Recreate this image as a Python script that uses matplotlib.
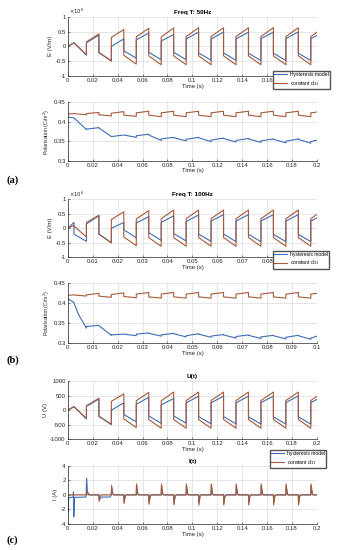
import matplotlib
matplotlib.use("Agg")
import matplotlib.pyplot as plt
from matplotlib.ticker import FuncFormatter

# segment boundaries (s): first rise, then switching instants of the square drive
switch_50 = [0, 0.005, 0.015, 0.025, 0.035, 0.045, 0.055, 0.065, 0.075, 0.085, 0.095,
             0.105, 0.115, 0.125, 0.135, 0.145, 0.155, 0.165, 0.175, 0.185, 0.195, 0.2]
switch_100 = [0, 0.0025, 0.0075, 0.0125, 0.0175, 0.0225, 0.0275, 0.0325, 0.0375, 0.0425, 0.0475,
              0.0525, 0.0575, 0.0625, 0.0675, 0.0725, 0.0775, 0.0825, 0.0875, 0.0925, 0.0975, 0.1]

# E field, 50 Hz (x1e6 V/m): value at start / end of each segment
e50_hyst_start = [0, 0.12, 0.12, -0.22, 0.0, -0.15, 0.22, -0.20, 0.18, -0.20, 0.25,
                  -0.22, 0.25, -0.22, 0.25, -0.23, 0.26, -0.23, 0.26, -0.23, 0.26]
e50_hyst_end = [0.12, -0.30, 0.38, -0.48, 0.25, -0.40, 0.45, -0.45, 0.40, -0.45, 0.48,
                -0.47, 0.48, -0.47, 0.48, -0.48, 0.48, -0.48, 0.49, -0.48, 0.37]
e50_const_start = [0, 0.12, 0.15, -0.20, 0.30, -0.30, 0.32, -0.32, 0.32, -0.32, 0.33,
                   -0.32, 0.33, -0.32, 0.33, -0.32, 0.33, -0.32, 0.33, -0.32, 0.33]
e50_const_end = [0.12, -0.28, 0.42, -0.50, 0.57, -0.60, 0.61, -0.62, 0.62, -0.62, 0.63,
                 -0.62, 0.63, -0.62, 0.63, -0.62, 0.63, -0.62, 0.63, -0.62, 0.48]

# polarisation, 50 Hz (C/m^2)
p50_hyst_start = [0.412, 0.410, 0.381, 0.384, 0.362, 0.366, 0.364, 0.366, 0.356, 0.359, 0.355,
                  0.359, 0.353, 0.357, 0.352, 0.356, 0.351, 0.355, 0.350, 0.355, 0.349]
p50_hyst_end = [0.410, 0.380, 0.385, 0.362, 0.366, 0.360, 0.368, 0.352, 0.360, 0.351, 0.360,
                0.349, 0.358, 0.348, 0.357, 0.347, 0.356, 0.346, 0.356, 0.345, 0.353]
p50_const_start = [0.420, 0.421, 0.421, 0.418, 0.422, 0.417, 0.423, 0.417, 0.423, 0.417, 0.423,
                   0.417, 0.423, 0.417, 0.423, 0.417, 0.423, 0.417, 0.423, 0.417, 0.423]
p50_const_end = [0.421, 0.418, 0.424, 0.415, 0.426, 0.414, 0.427, 0.413, 0.427, 0.413, 0.427,
                 0.413, 0.427, 0.413, 0.427, 0.413, 0.427, 0.413, 0.427, 0.413, 0.425]

# E field, 100 Hz (x1e6 V/m)
e100_hyst_start = [0, -0.20, 0.15, -0.20, 0.00, -0.05, 0.18, -0.15, 0.20, -0.18, 0.23,
                   -0.20, 0.25, -0.20, 0.25, -0.21, 0.25, -0.21, 0.25, -0.21, 0.25]
e100_hyst_end = [0.20, -0.45, 0.43, -0.50, 0.20, -0.33, 0.40, -0.42, 0.43, -0.44, 0.46,
                 -0.45, 0.47, -0.46, 0.47, -0.46, 0.47, -0.46, 0.47, -0.46, 0.36]
e100_const_start = [0, 0.08, 0.20, -0.20, 0.30, -0.30, 0.32, -0.32, 0.33, -0.32, 0.33,
                    -0.32, 0.33, -0.32, 0.33, -0.32, 0.33, -0.32, 0.33, -0.32, 0.33]
e100_const_end = [0.10, -0.30, 0.45, -0.50, 0.57, -0.60, 0.61, -0.62, 0.63, -0.62, 0.63,
                  -0.62, 0.63, -0.62, 0.63, -0.62, 0.63, -0.62, 0.63, -0.62, 0.48]

# polarisation, 100 Hz (hysteresis curve has one extra knot in its first drop)
p100_hyst_bounds = [0, 0.0025, 0.0045] + switch_100[2:]
p100_hyst_start = [0.412, 0.400, 0.370, 0.342, 0.344, 0.321, 0.323, 0.323, 0.325, 0.321, 0.324,
                   0.319, 0.323, 0.318, 0.321, 0.317, 0.320, 0.316, 0.319, 0.315, 0.319, 0.313]
p100_hyst_end = [0.402, 0.370, 0.338, 0.345, 0.320, 0.323, 0.319, 0.326, 0.318, 0.325, 0.316,
                 0.324, 0.315, 0.322, 0.313, 0.321, 0.312, 0.320, 0.311, 0.320, 0.310, 0.318]
p100_const_start = [0.420, 0.421, 0.421, 0.418, 0.422, 0.417, 0.423, 0.416, 0.423, 0.416, 0.423,
                    0.416, 0.423, 0.416, 0.423, 0.416, 0.423, 0.416, 0.423, 0.416, 0.423]
p100_const_end = [0.421, 0.418, 0.425, 0.415, 0.426, 0.414, 0.427, 0.413, 0.427, 0.413, 0.427,
                  0.413, 0.427, 0.413, 0.427, 0.413, 0.427, 0.413, 0.427, 0.413, 0.425]

# voltage (V)
u_hyst_start = [0, 120, 130, -220, 0, -150, 200, -200, 180, -200, 250,
                -220, 250, -220, 250, -230, 260, -230, 260, -230, 260]
u_hyst_end = [120, -300, 380, -480, 250, -400, 440, -450, 400, -450, 480,
              -470, 480, -470, 480, -480, 480, -480, 490, -480, 370]
u_const_start = [0, 120, 150, -200, 300, -300, 320, -320, 320, -320, 330,
                 -320, 330, -320, 330, -320, 330, -320, 330, -320, 330]
u_const_end = [120, -280, 410, -500, 560, -600, 610, -620, 620, -620, 620,
               -620, 620, -620, 620, -620, 620, -620, 620, -620, 480]

# current (A): spikes at the switching instants
i_spike_times = [0.015, 0.025, 0.035, 0.045, 0.055, 0.065, 0.075, 0.085, 0.095, 0.105,
                 0.115, 0.125, 0.135, 0.145, 0.155, 0.165, 0.175, 0.185, 0.195]
i_const_amp = [0.6, -0.9, 1.3, -1.2, 1.5, -1.3, 1.5, -1.4, 1.5, -1.4,
               1.5, -1.4, 1.5, -1.4, 1.5, -1.4, 1.5, -1.4, 1.5]
i_hyst_amp = [0.0, 0.0, 1.0, -1.0, 1.2, -1.1, 1.2, -1.1, 1.2, -1.1,
              1.2, -1.1, 1.2, -1.1, 1.2, -1.1, 1.2, -1.1, 1.2]
i_hyst_start_t = [0, 0.0003, 0.0008, 0.0044, 0.0046, 0.0049, 0.0055, 0.0147, 0.0152, 0.0158,
                  0.0175, 0.025, 0.0252, 0.027, 0.034, 0.035]
i_hyst_start_v = [0, -2.4, -0.4, -0.3, 0.4, -3.0, -0.35, -0.3, 2.3, 0.4,
                  0.0, 0.0, -0.7, -0.3, -0.3, 0.0]

BLUE = "#3f6db5"
BROWN = "#a65a3a"
AXC = "#262626"


def square_path(bounds, starts, ends):
    t, y = [], []
    for i in range(len(starts)):
        t += [bounds[i], bounds[i + 1]]
        y += [starts[i], ends[i]]
    return t, y


def spike_path(times, amps, t_end):
    t, y = [0.0], [0.0]
    for ts, a in zip(times, amps):
        if a == 0:
            continue
        t += [ts, ts + 0.0002, ts + 0.0012, ts + 0.002]
        y += [0, a, 0.1 * a, 0]
    t.append(t_end)
    y.append(0)
    return t, y


def style_axes(ax, xmax, xstep, yticks, ylabel, ylab_size=4.3):
    ax.set_xlim(0, xmax)
    ax.set_xticks([round(k * xstep, 4) for k in range(int(round(xmax / xstep)) + 1)])
    ax.set_ylim(yticks[0], yticks[-1])
    ax.set_yticks(yticks)
    ax.xaxis.set_major_formatter(FuncFormatter(lambda v, p: f"{v:g}"))
    ax.yaxis.set_major_formatter(FuncFormatter(lambda v, p: f"{v:g}"))
    ax.grid(True, color="#dcdcdc", linewidth=0.5)
    ax.set_axisbelow(True)
    for s in ("top", "right"):
        ax.spines[s].set_visible(False)
    for s in ("left", "bottom"):
        ax.spines[s].set_color(AXC)
        ax.spines[s].set_linewidth(0.5)
    ax.tick_params(direction="in", length=1.5, width=0.4, labelsize=4.3,
                   colors=AXC, pad=1.5)
    ax.set_xlabel("Time (s)", fontsize=4.3, labelpad=0.5, color=AXC)
    ax.set_ylabel(ylabel, fontsize=ylab_size, labelpad=1.5, color=AXC)


def add_legend(ax, fig, x, y, first):
    ax.legend([first, "constant d$_{31}$"], loc="lower left", bbox_to_anchor=(x, y),
              bbox_transform=fig.transFigure, fontsize=3.6, frameon=True, fancybox=False,
              edgecolor="#555555", framealpha=1, handlelength=2.6, borderpad=0.3,
              labelspacing=0.3, handletextpad=0.5, borderaxespad=0)


plt.rcParams["font.family"] = ["Liberation Sans", "DejaVu Sans"]
fig = plt.figure(figsize=(3.42, 5.5), dpi=100)
L, W = 0.198, 0.729

# (a) 50 Hz
ax = fig.add_axes([L, 0.8618, W, 0.1078])
t, y = square_path(switch_50, e50_hyst_start, e50_hyst_end)
ax.plot(t, y, color=BLUE, lw=0.8)
t, y = square_path(switch_50, e50_const_start, e50_const_end)
ax.plot(t, y, color=BROWN, lw=0.8)
style_axes(ax, 0.2, 0.02, [-1, -0.5, 0, 0.5, 1], "E (V/m)")
ax.text(0.005, 1.01, r"$\times10^{6}$", transform=ax.transAxes, fontsize=3.8, color=AXC, va="bottom")
ax.set_title("Freq T: 50Hz", fontsize=4.6, fontweight="bold", pad=2)
add_legend(ax, fig, 0.797, 0.838, "Hysteresis model")

ax = fig.add_axes([L, 0.7078, W, 0.1062])
t, y = square_path(switch_50, p50_hyst_start, p50_hyst_end)
ax.plot(t, y, color=BLUE, lw=0.8)
t, y = square_path(switch_50, p50_const_start, p50_const_end)
ax.plot(t, y, color=BROWN, lw=0.8)
style_axes(ax, 0.2, 0.02, [0.3, 0.35, 0.4, 0.45], "Polarisation (C/m$^2$)", 3.8)

# (b) 100 Hz
ax = fig.add_axes([L, 0.5322, W, 0.1055])
t, y = square_path(switch_100, e100_hyst_start, e100_hyst_end)
ax.plot(t, y, color=BLUE, lw=0.8)
t, y = square_path(switch_100, e100_const_start, e100_const_end)
ax.plot(t, y, color=BROWN, lw=0.8)
style_axes(ax, 0.1, 0.01, [-1, -0.5, 0, 0.5, 1], "E (V/m)")
ax.text(0.005, 1.01, r"$\times10^{6}$", transform=ax.transAxes, fontsize=3.8, color=AXC, va="bottom")
ax.set_title("Freq T: 100Hz", fontsize=4.6, fontweight="bold", pad=2)
add_legend(ax, fig, 0.797, 0.511, "hysteresis model")

ax = fig.add_axes([L, 0.3758, W, 0.1091])
t, y = square_path(p100_hyst_bounds, p100_hyst_start, p100_hyst_end)
ax.plot(t, y, color=BLUE, lw=0.8)
t, y = square_path(switch_100, p100_const_start, p100_const_end)
ax.plot(t, y, color=BROWN, lw=0.8)
style_axes(ax, 0.1, 0.01, [0.3, 0.35, 0.4, 0.45], "Polarisation (C/m$^2$)", 3.8)

# (c) voltage and current
ax = fig.add_axes([L, 0.2013, W, 0.106])
t, y = square_path(switch_50, u_hyst_start, u_hyst_end)
ax.plot(t, y, color=BLUE, lw=0.8)
t, y = square_path(switch_50, u_const_start, u_const_end)
ax.plot(t, y, color=BROWN, lw=0.8)
style_axes(ax, 0.2, 0.02, [-1000, -500, 0, 500, 1000], "U (V)")
ax.set_title("U(t)", fontsize=4.6, fontweight="bold", pad=2)

ax = fig.add_axes([L, 0.0473, W, 0.106])
ts, ys = spike_path(i_spike_times[2:], i_hyst_amp[2:], 0.2)
ax.plot(i_hyst_start_t + ts[2:], i_hyst_start_v + ys[2:], color=BLUE, lw=0.8)
t, y = spike_path(i_spike_times, i_const_amp, 0.2)
ax.plot(t, y, color=BROWN, lw=0.8)
style_axes(ax, 0.2, 0.02, [-4, -2, 0, 2, 4], "I (A)")
ax.set_title("I(t)", fontsize=4.6, fontweight="bold", pad=2)
add_legend(ax, fig, 0.789, 0.149, "hysteresis model")

for lab, yy in (("(a)", 1 - 180 / 550), ("(b)", 1 - 360 / 550), ("(c)", 1 - 540 / 550)):
    fig.text(0.018, yy, lab, fontsize=7.5, fontweight="bold", family="Liberation Serif",
             va="center", ha="left")

fig.savefig("out.png", dpi=100)
